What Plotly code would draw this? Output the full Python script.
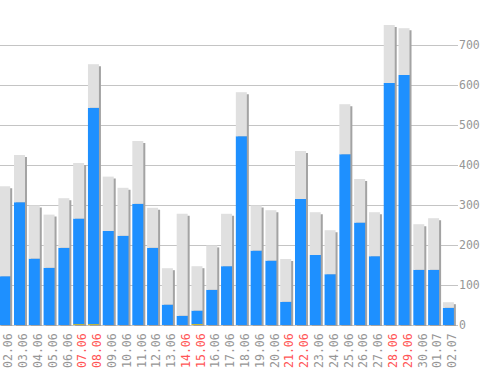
import plotly.graph_objects as go

dates = ["02.06","03.06","04.06","05.06","06.06","07.06","08.06","09.06","10.06","11.06",
         "12.06","13.06","14.06","15.06","16.06","17.06","18.06","19.06","20.06","21.06",
         "22.06","23.06","24.06","25.06","26.06","27.06","28.06","29.06","30.06","01.07","02.07"]
weekend = ["07.06","08.06","14.06","15.06","21.06","22.06","28.06","29.06"]
total = [347, 425, 299, 276, 317, 405, 652, 371, 343, 460,
         293, 142, 278, 147, 199, 278, 582, 299, 287, 165,
         435, 282, 237, 552, 365, 282, 750, 742, 252, 267, 57]
blue = [122, 307, 166, 143, 193, 266, 543, 235, 223, 303,
        193, 51, 23, 36, 88, 147, 472, 186, 161, 58,
        315, 175, 127, 427, 256, 172, 605, 625, 138, 138, 43]
yellow = [0, 0, 0, 0, 0, 2, 2, 0, 0, 0,
          0, 0, 0, 2, 0, 0, 0, 0, 0, 0,
          0, 0, 0, 0, 0, 0, 0, 0, 0, 0, 0]
y_ticks = [0, 100, 200, 300, 400, 500, 600, 700]

n = len(dates)
idx = list(range(n))
W = 0.744
px = 1 / 14.79  # one pixel in x units

gray_seg = [t - b for t, b in zip(total, blue)]
blue_seg = [b - y for b, y in zip(blue, yellow)]

fig = go.Figure()
# shadow
fig.add_trace(go.Bar(x=[i + 2 * px for i in idx], y=[t - 2.5 for t in total], base=[-2.5] * n,
                     width=W, marker=dict(color="#a3a3a3", line=dict(width=0)), hoverinfo="skip"))
fig.add_trace(go.Bar(x=idx, y=yellow, base=[0] * n, width=W,
                     marker=dict(color="#f2c200", line=dict(width=0))))
fig.add_trace(go.Bar(x=idx, y=blue_seg, base=yellow, width=W,
                     marker=dict(color="#1e90ff", line=dict(width=0))))
fig.add_trace(go.Bar(x=idx, y=gray_seg, base=blue, width=W,
                     marker=dict(color="#e0e0e0", line=dict(width=0))))

ticktext = [f"<span style='color:#ff5555'>{d}</span>" if d in weekend else d for d in dates]

fig.update_layout(
    barmode="overlay",
    width=498, height=370,
    margin=dict(l=0, r=40, t=5, b=43, autoexpand=False),
    paper_bgcolor="white", plot_bgcolor="white",
    showlegend=False,
    font=dict(family="DejaVu Sans Mono", size=11, color="#969696"),
    xaxis=dict(range=[-0.318, 30.65], tickvals=[i + 4 * px for i in idx], ticktext=ticktext,
               tickangle=-90, showgrid=False, zeroline=False, showline=False, ticks="",
               automargin=False, ticklabelstandoff=3,
               tickfont=dict(family="DejaVu Sans Mono", size=11.5, color="#969696")),
    yaxis=dict(range=[-5, 800], side="right", tickvals=y_ticks, showgrid=True,
               gridcolor="#c4c4c4", gridwidth=1, zeroline=False, showline=False, ticks="",
               automargin=False,
               tickfont=dict(family="DejaVu Sans Mono", size=11.5, color="#969696")),
)
fig.write_html("out.html", config={"displayModeBar": False},
               post_script="document.body.style.margin='0';document.body.style.overflow='hidden';")
